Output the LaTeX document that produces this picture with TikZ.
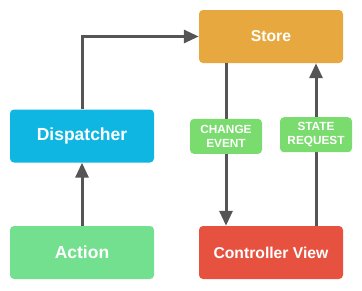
\documentclass[tikz,border=0pt]{standalone}
\usepackage{fontspec}
\setmainfont{Liberation Sans}
\usetikzlibrary{arrows.meta}

\definecolor{storeOrange}{RGB}{231,169,63}
\definecolor{dispatchBlue}{RGB}{16,182,226}
\definecolor{actionGreen}{RGB}{114,224,142}
\definecolor{viewRed}{RGB}{230,82,63}
\definecolor{tagGreen}{RGB}{122,220,110}
\definecolor{flowGray}{RGB}{85,85,85}

\begin{document}
\begin{tikzpicture}[x=1pt, y=-1pt, >={Triangle[length=15pt,width=13pt]},
  box/.style={rounded corners=4pt, minimum width=144pt, minimum height=53pt,
    inner sep=0pt, text=white, font=\bfseries\fontsize{15.7}{18}\selectfont},
  bigbox/.style={box, font=\bfseries\fontsize{17.5}{20}\selectfont},
  tag/.style={fill=tagGreen, rounded corners=4pt, minimum width=72pt,
    minimum height=35pt, inner sep=0pt, align=center, text=white,
    font=\bfseries\fontsize{11.8}{14.3}\selectfont},
  flow/.style={->, draw=flowGray, line width=3pt}]
  \useasboundingbox (0,0) rectangle (362,290);

  % The four parts of the loop
  \node[box, fill=storeOrange] (store) at (271,36.5) {Store};
  \node[bigbox, fill=dispatchBlue] (dispatcher) at (82,136) {Dispatcher};
  \node[bigbox, fill=actionGreen] (action) at (82,252.5) {Action};
  \node[box, fill=viewRed] (view) at (271,252.5) {Controller View};

  % Columns for the two vertical flows
  \coordinate (downcol) at (226,0);
  \coordinate (upcol) at (316,0);

  % Flows
  \draw[flow] (action) -- (dispatcher);
  \draw[flow] (dispatcher.north) |- (store.west);
  \draw[flow] (store.south -| downcol) -- (view.north -| downcol)
    node[tag, pos=0.45] (change) {CHANGE\\EVENT};
  \draw[flow] (view.north -| upcol) -- (store.south -| upcol)
    node[tag, pos=0.56] (request) {STATE\\REQUEST};
\end{tikzpicture}
\end{document}
